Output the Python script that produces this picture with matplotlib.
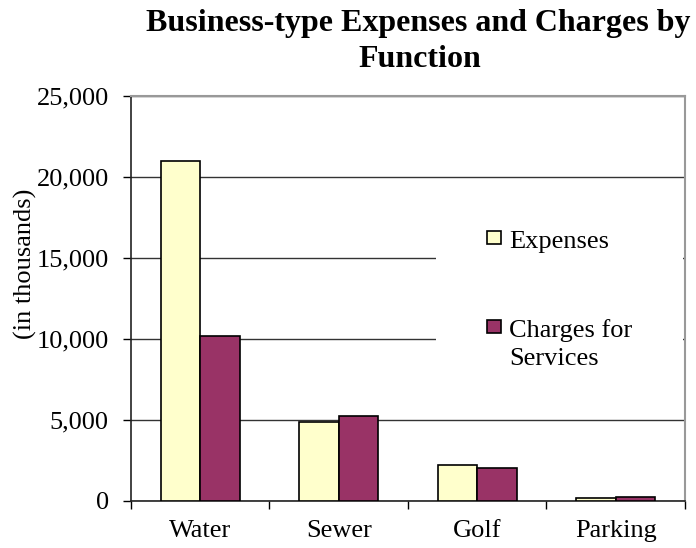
import matplotlib
matplotlib.use("Agg")
import matplotlib.pyplot as plt
import numpy as np
from matplotlib.patches import Rectangle

# data (thousands of dollars)
categories = ["Water", "Sewer", "Golf", "Parking"]
expenses = [21000, 4850, 2210, 180]
charges = [10200, 5230, 2030, 230]
y_ticks = [0, 5000, 10000, 15000, 20000, 25000]

EXP_COLOR = "#FFFFCC"
CHG_COLOR = "#993366"

plt.rcParams["font.family"] = ["Liberation Serif", "DejaVu Serif"]

fig = plt.figure(figsize=(6.96, 5.48), dpi=100)
ax = fig.add_axes([0.1882, 0.0858, 0.7960, 0.7390])

x = np.arange(len(categories))
w = 0.2857
ax.bar(x - w / 2, expenses, w, color=EXP_COLOR, edgecolor="black", linewidth=1.2, zorder=3)
ax.bar(x + w / 2, charges, w, color=CHG_COLOR, edgecolor="black", linewidth=1.2, zorder=3)

ax.set_xlim(-0.5, len(categories) - 0.5)
ax.set_ylim(0, 25000)
ax.set_yticks(y_ticks)
ax.set_yticklabels([f"{v:,}" for v in y_ticks], fontsize=19)
ax.yaxis.grid(True, color="#333333", linewidth=1, zorder=1)

# ticks between categories, labels at the centres
ax.set_xticks(np.arange(len(categories) + 1) - 0.5)
ax.set_xticklabels([])
ax.set_xticks(x, minor=True)
ax.set_xticklabels(categories, minor=True, fontsize=19)
ax.tick_params(axis="x", which="major", direction="out", length=6, width=1)
ax.tick_params(axis="x", which="minor", length=0, pad=14)
ax.tick_params(axis="y", direction="out", length=6, width=1, pad=10)

for side in ["top", "right"]:
    ax.spines[side].set_color("#999999")
    ax.spines[side].set_linewidth(1.5)
for side in ["left", "bottom"]:
    ax.spines[side].set_color("#222222")
    ax.spines[side].set_linewidth(1.2)

# legend, Excel style: white block over the gridlines
ax.add_patch(Rectangle((0.55, 0.26), 0.446, 0.48, transform=ax.transAxes,
                       facecolor="white", edgecolor="none", zorder=2))
legend_items = [
    (EXP_COLOR, ["Expenses"], 0.6346, [0.6247]),
    (CHG_COLOR, ["Charges for", "Services"], 0.4148, [0.405, 0.336]),
]
for col, lines, box_y, baselines in legend_items:
    ax.add_patch(Rectangle((0.6426, box_y), 0.0253, 0.032, transform=ax.transAxes,
                           facecolor=col, edgecolor="black", linewidth=1.2, zorder=4))
    for txt, by in zip(lines, baselines):
        ax.text(0.682, by, txt, transform=ax.transAxes, fontsize=19,
                va="baseline", ha="left", zorder=4)

fig.text(25 / 696, 1 - 264 / 548, "(in thousands)", rotation=90, fontsize=19,
         ha="center", va="center")

fig.text(418 / 696, 1 - 31 / 548, "Business-type Expenses and Charges by",
         fontsize=23, fontweight="bold", ha="center", va="baseline")
fig.text(420 / 696, 1 - 67 / 548, "Function",
         fontsize=23, fontweight="bold", ha="center", va="baseline")

fig.savefig("out.png", dpi=100)
